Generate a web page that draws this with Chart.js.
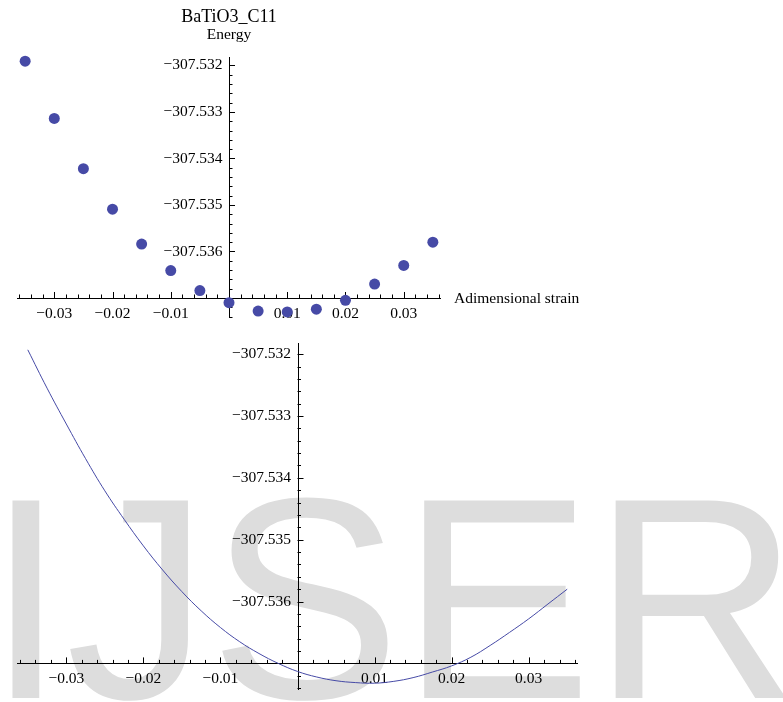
<!DOCTYPE html>
<html>
<head>
<meta charset="utf-8">
<title>BaTiO3_C11</title>
<script src="https://cdn.jsdelivr.net/npm/chart.js@4.4.1/dist/chart.umd.min.js"></script>
<style>
  body { margin: 0; background: #fff; }
  #wrap { position: relative; width: 783px; height: 702px; overflow: hidden; }
  canvas { position: absolute; left: 0; }
</style>
</head>
<body>
<div id="wrap">
  <canvas id="pointsChart" width="783" height="330" style="top:0"></canvas>
  <canvas id="fitChart" width="783" height="372" style="top:330px"></canvas>
</div>
<script>
// Computed energies vs strain (top plot)
const strain = [-0.035, -0.03, -0.025, -0.02, -0.015, -0.01, -0.005, 0, 0.005, 0.01, 0.015, 0.02, 0.025, 0.03, 0.035];
const energy = [-307.53191, -307.53314, -307.53422, -307.53509, -307.53584, -307.53641, -307.53684, -307.53710,
                -307.53728, -307.53730, -307.53724, -307.53705, -307.53670, -307.53630, -307.53580];

// Fitted curve
const fitStrain = [-0.035, -0.0325, -0.03, -0.0275, -0.025, -0.0225, -0.02, -0.0175, -0.015, -0.0125, -0.01, -0.0075,
                   -0.005, -0.0025, 0, 0.0025, 0.005, 0.0075, 0.01, 0.0125, 0.015, 0.0175, 0.02, 0.0225, 0.025,
                   0.0275, 0.03, 0.0325, 0.035];
const fitEnergy = [-307.53193, -307.53255, -307.53313, -307.53369, -307.53421, -307.53467, -307.53510, -307.53549,
                   -307.53584, -307.53615, -307.53642, -307.53665, -307.53684, -307.53700, -307.53713, -307.53722,
                   -307.53728, -307.53731, -307.53732, -307.53729, -307.53723, -307.53714, -307.53704, -307.53690,
                   -307.53671, -307.53650, -307.53628, -307.53604, -307.53580];

// Axis ticks
const xTickValues = [-0.03, -0.02, -0.01, 0.01, 0.02, 0.03];
const xTickLabels = ['\u22120.03', '\u22120.02', '\u22120.01', '0.01', '0.02', '0.03'];
const yTickValues = [-307.532, -307.533, -307.534, -307.535, -307.536];
const yTickLabels = ['\u2212307.532', '\u2212307.533', '\u2212307.534', '\u2212307.535', '\u2212307.536'];

const xRange = [-0.0364, 0.0364];
const yRange = [-307.53743, -307.53182];
const axisOriginY = -307.537;

const markColor = 'rgb(70,74,166)';
const serif = "'Liberation Serif', 'Times New Roman', serif";

// Mathematica-style axes crossing inside the plot, ticks pointing inward
const mathAxes = {
  id: 'mathAxes',
  beforeDraw(chart, args, opts) {
    if (!opts.watermark) return;
    const ctx = chart.ctx;
    ctx.save();
    ctx.fillStyle = '#dddddd';
    ctx.font = "287px 'Liberation Sans', Arial, sans-serif";
    ctx.textBaseline = 'alphabetic';
    ctx.textAlign = 'left';
    ctx.fillText(opts.watermark, -14, 368);
    ctx.restore();
  },
  beforeDatasetsDraw(chart, args, opts) {
    const {ctx, chartArea: a, scales: {x, y}} = chart;
    const x0 = x.getPixelForValue(0);
    const y0 = y.getPixelForValue(axisOriginY);
    ctx.save();
    ctx.strokeStyle = '#000';
    ctx.lineWidth = 1;
    ctx.beginPath();
    ctx.moveTo(a.left, Math.round(y0) + 0.5);
    ctx.lineTo(a.right, Math.round(y0) + 0.5);
    ctx.moveTo(Math.round(x0) + 0.5, a.top);
    ctx.lineTo(Math.round(x0) + 0.5, a.bottom);
    // x ticks every 0.002, major every 0.01
    for (let k = -18; k <= 18; k++) {
      if (k === 0) continue;
      const px = Math.round(x.getPixelForValue(k * 0.002)) + 0.5;
      const len = k % 5 === 0 ? 6 : 3.5;
      ctx.moveTo(px, y0);
      ctx.lineTo(px, y0 - len);
    }
    // y ticks every 0.0002, major every 0.001
    for (let k = -2; k <= 26; k++) {
      if (k === 0) continue;
      const v = axisOriginY + k * 0.0002;
      if (v < yRange[0] || v > yRange[1]) continue;
      const py = Math.round(y.getPixelForValue(v)) + 0.5;
      const len = k % 5 === 0 ? 6 : 3.5;
      ctx.moveTo(x0, py);
      ctx.lineTo(x0 + len, py);
    }
    ctx.stroke();

    ctx.fillStyle = '#000';
    ctx.font = '15.5px ' + serif;
    ctx.textAlign = 'center';
    ctx.textBaseline = 'middle';
    xTickValues.forEach((v, i) => {
      ctx.fillText(xTickLabels[i], x.getPixelForValue(v), y0 + 15.5);
    });
    ctx.textAlign = 'right';
    yTickValues.forEach((v, i) => {
      ctx.fillText(yTickLabels[i], x0 - 6.5, y.getPixelForValue(v));
    });

    if (opts.xLabel) {
      ctx.textAlign = 'left';
      ctx.fillText(opts.xLabel, a.right + 13, y0 + 1);
    }
    if (opts.yLabel) {
      ctx.textAlign = 'center';
      ctx.textBaseline = 'alphabetic';
      ctx.fillText(opts.yLabel, x0, 39);
    }
    if (opts.title) {
      ctx.font = '18px ' + serif;
      ctx.textAlign = 'center';
      ctx.textBaseline = 'alphabetic';
      ctx.fillText(opts.title, (a.left + a.right) / 2, 21.5);
    }
    ctx.restore();
  }
};

function baseOptions(padding, axesOpts) {
  return {
    responsive: false,
    animation: false,
    events: [],
    layout: { padding: padding },
    scales: {
      x: { type: 'linear', min: xRange[0], max: xRange[1], display: false },
      y: { type: 'linear', min: yRange[0], max: yRange[1], display: false }
    },
    plugins: {
      legend: { display: false },
      tooltip: { enabled: false },
      mathAxes: axesOpts
    }
  };
}

// Top: data points
new Chart(document.getElementById('pointsChart'), {
  type: 'scatter',
  data: {
    datasets: [{
      data: strain.map((s, i) => ({ x: s, y: energy[i] })),
      backgroundColor: markColor,
      borderWidth: 0,
      pointRadius: 5.5,
      pointHoverRadius: 5.5,
      clip: false
    }]
  },
  options: baseOptions({ left: 17, right: 342, top: 57, bottom: 12 },
    { title: 'BaTiO3_C11', yLabel: 'Energy', xLabel: 'Adimensional strain' }),
  plugins: [mathAxes]
});

// Bottom: fitted curve
new Chart(document.getElementById('fitChart'), {
  type: 'line',
  data: {
    datasets: [{
      data: fitStrain.map((s, i) => ({ x: s, y: fitEnergy[i] })),
      borderColor: markColor,
      borderWidth: 1,
      pointRadius: 0,
      fill: false,
      tension: 0.4,
      clip: false
    }]
  },
  options: baseOptions({ left: 17, right: 205, top: 13, bottom: 12 },
    { watermark: 'IJSER' }),
  plugins: [mathAxes]
});
</script>
</body>
</html>
